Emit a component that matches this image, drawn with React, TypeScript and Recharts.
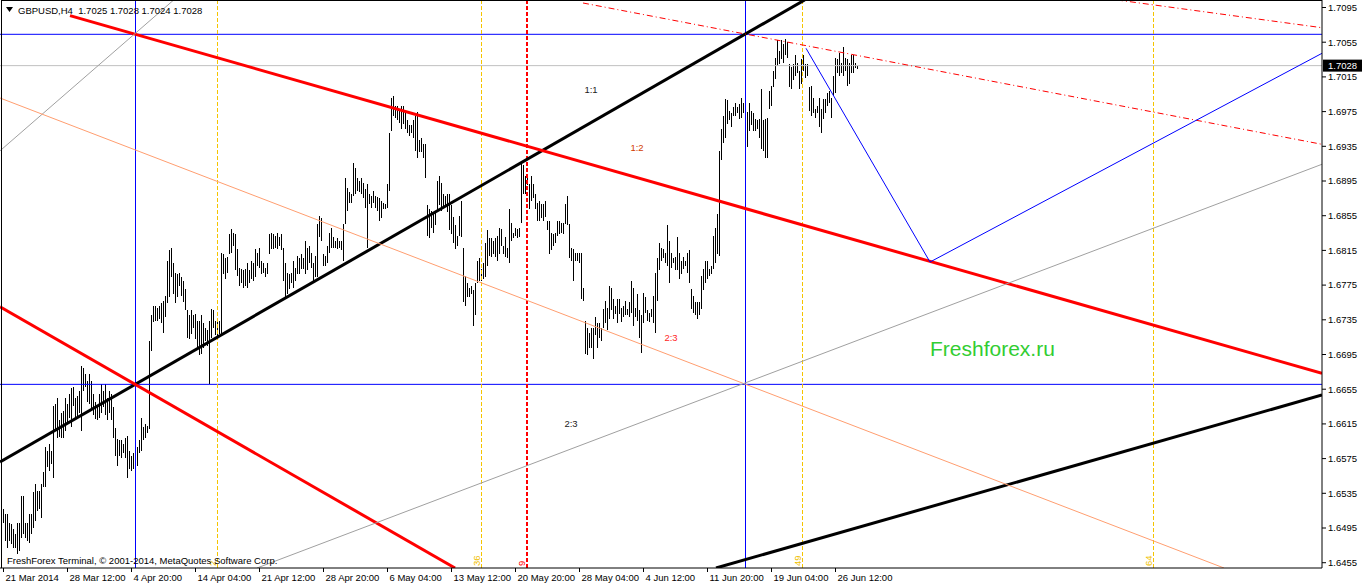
import React from "react";
import {
  ComposedChart,
  Bar,
  XAxis,
  YAxis,
  ReferenceLine,
  ReferenceDot,
} from "recharts";

// GBPUSD H4 bars (high / low per bar)
const highs = [
  1.6517, 1.6511, 1.6511, 1.6501, 1.65, 1.6494, 1.6488, 1.6501, 1.6501, 1.6532,
  1.6532, 1.6501, 1.6501, 1.6511, 1.6511, 1.6536, 1.6546, 1.6538, 1.6538, 1.6546,
  1.6559, 1.6588, 1.6584, 1.6592, 1.6584, 1.6636, 1.6638, 1.6645, 1.6619, 1.6627,
  1.663, 1.6645, 1.6638, 1.665, 1.6656, 1.6657, 1.6645, 1.6647, 1.6653, 1.6682,
  1.668, 1.6673, 1.6665, 1.6673, 1.6665, 1.665, 1.664, 1.6636, 1.665, 1.6661,
  1.6653, 1.6661, 1.6645, 1.6653, 1.665, 1.6634, 1.661, 1.6598, 1.6596, 1.6596,
  1.6592, 1.6599, 1.6601, 1.6584, 1.6578, 1.6581, 1.6592, 1.6588, 1.6596, 1.6622,
  1.6611, 1.6615, 1.6613, 1.6711, 1.674, 1.6751, 1.6751, 1.6749, 1.6751, 1.6754,
  1.6757, 1.6763, 1.6803, 1.6815, 1.6818, 1.68, 1.6789, 1.6788, 1.6789, 1.6784,
  1.678, 1.6771, 1.6746, 1.674, 1.6746, 1.674, 1.6742, 1.6734, 1.6734, 1.674,
  1.6731, 1.6726, 1.6723, 1.6734, 1.6748, 1.6746, 1.6734, 1.6732, 1.6734, 1.6812,
  1.6811, 1.6806, 1.6807, 1.6834, 1.684, 1.6835, 1.6834, 1.6817, 1.6795, 1.6794,
  1.6792, 1.6794, 1.68, 1.6792, 1.6803, 1.68, 1.6817, 1.6812, 1.6818, 1.6803,
  1.68, 1.6795, 1.68, 1.6834, 1.6835, 1.6834, 1.6832, 1.6835, 1.683, 1.6834,
  1.6818, 1.6801, 1.6789, 1.6788, 1.6789, 1.6803, 1.6795, 1.6809, 1.6806, 1.6811,
  1.6806, 1.6826, 1.6818, 1.682, 1.6812, 1.6801, 1.6809, 1.6846, 1.6855, 1.6852,
  1.6811, 1.6809, 1.682, 1.6835, 1.6841, 1.683, 1.6826, 1.6829, 1.6826, 1.6826,
  1.6846, 1.6898, 1.6887, 1.6882, 1.688, 1.6916, 1.691, 1.6899, 1.6895, 1.6898,
  1.6893, 1.6886, 1.6892, 1.688, 1.6878, 1.6884, 1.6878, 1.6876, 1.6875, 1.6872,
  1.687, 1.6869, 1.6892, 1.695, 1.6991, 1.6993, 1.6982, 1.6982, 1.6976, 1.6982,
  1.6982, 1.6973, 1.6965, 1.6959, 1.6959, 1.6965, 1.697, 1.6974, 1.6942, 1.6944,
  1.6938, 1.6938, 1.6867, 1.6863, 1.6861, 1.6859, 1.6861, 1.6895, 1.6901, 1.6893,
  1.688, 1.6878, 1.688, 1.688, 1.6867, 1.6853, 1.6844, 1.6832, 1.6855, 1.6872,
  1.6818, 1.6786, 1.6778, 1.6772, 1.6774, 1.6769, 1.6777, 1.6803, 1.6806, 1.6794,
  1.68, 1.6824, 1.6838, 1.6829, 1.6829, 1.6826, 1.6829, 1.6832, 1.6841, 1.684,
  1.682, 1.683, 1.6818, 1.6863, 1.6847, 1.6835, 1.6841, 1.684, 1.6841, 1.6915,
  1.6913, 1.6901, 1.6901, 1.6892, 1.6901, 1.6892, 1.688, 1.687, 1.6872, 1.6869,
  1.6869, 1.6872, 1.6849, 1.6849, 1.6835, 1.6834, 1.6835, 1.6849, 1.6849, 1.6847,
  1.6847, 1.6869, 1.6878, 1.6846, 1.6818, 1.6817, 1.6812, 1.6812, 1.6812, 1.6812,
  1.6772, 1.6734, 1.6725, 1.672, 1.6726, 1.6726, 1.6738, 1.6731, 1.6731, 1.6725,
  1.6748, 1.6757, 1.6749, 1.6774, 1.6772, 1.6759, 1.6751, 1.6759, 1.6759, 1.6749,
  1.6751, 1.6757, 1.6748, 1.6755, 1.678, 1.6772, 1.6749, 1.6765, 1.6746, 1.674,
  1.6766, 1.6761, 1.6746, 1.6743, 1.6748, 1.6763, 1.6789, 1.6806, 1.6823, 1.6818,
  1.6817, 1.6812, 1.6844, 1.6826, 1.6812, 1.6806, 1.6807, 1.683, 1.6812, 1.6803,
  1.6807, 1.6803, 1.6812, 1.6815, 1.6771, 1.6763, 1.6755, 1.6755, 1.6755, 1.6786,
  1.6794, 1.6803, 1.6803, 1.6794, 1.6797, 1.6832, 1.6841, 1.6857, 1.693, 1.6955,
  1.697, 1.699, 1.6988, 1.6976, 1.6973, 1.698, 1.6985, 1.698, 1.6984, 1.6991,
  1.6985, 1.6988, 1.6974, 1.6985, 1.6976, 1.6973, 1.6967, 1.6965, 1.6967, 1.7001,
  1.6965, 1.6967, 1.6968, 1.6999, 1.7005, 1.7022, 1.7037, 1.7057, 1.7045, 1.7057,
  1.7053, 1.7059, 1.7055, 1.703, 1.7026, 1.703, 1.704, 1.7031, 1.7022, 1.7036,
  1.704, 1.703, 1.703, 1.7003, 1.7005, 1.6991, 1.6978, 1.6982, 1.6991, 1.6978,
  1.699, 1.699, 1.6996, 1.6999, 1.6991, 1.7016, 1.7037, 1.7036, 1.7043, 1.7031,
  1.7049, 1.7037, 1.7036, 1.7031, 1.704, 1.704, 1.7031, 1.7028,
];

const lows = [
  1.6501, 1.648, 1.6472, 1.648, 1.6477, 1.6472, 1.6472, 1.6465, 1.6469, 1.6484,
  1.6488, 1.6484, 1.648, 1.6478, 1.6488, 1.6495, 1.6503, 1.6515, 1.6517, 1.6507,
  1.6542, 1.6542, 1.6565, 1.6561, 1.6569, 1.6553, 1.6607, 1.6599, 1.66, 1.6599,
  1.6599, 1.6607, 1.6615, 1.6622, 1.6611, 1.6636, 1.6622, 1.6622, 1.6627, 1.6607,
  1.6653, 1.6657, 1.664, 1.6638, 1.663, 1.6625, 1.6621, 1.6619, 1.6622, 1.6627,
  1.6634, 1.6625, 1.6619, 1.6627, 1.6619, 1.6599, 1.6578, 1.6567, 1.6578, 1.6576,
  1.6581, 1.6576, 1.6553, 1.6563, 1.6561, 1.6563, 1.6569, 1.6567, 1.6581, 1.6584,
  1.6596, 1.6599, 1.6605, 1.6609, 1.6699, 1.6732, 1.6734, 1.6734, 1.6736, 1.6731,
  1.672, 1.6738, 1.6754, 1.6761, 1.6784, 1.6765, 1.6754, 1.6761, 1.6774, 1.6763,
  1.6755, 1.6746, 1.6714, 1.6713, 1.6719, 1.6726, 1.6713, 1.6702, 1.6694, 1.6696,
  1.6703, 1.6711, 1.6705, 1.6661, 1.6714, 1.6725, 1.6717, 1.6713, 1.6719, 1.6717,
  1.6788, 1.6782, 1.6789, 1.6811, 1.6812, 1.682, 1.6792, 1.6786, 1.6774, 1.6778,
  1.6772, 1.6774, 1.6772, 1.6778, 1.6782, 1.678, 1.6784, 1.6797, 1.6795, 1.6788,
  1.6789, 1.6784, 1.6788, 1.6811, 1.6817, 1.6817, 1.6818, 1.6817, 1.682, 1.6815,
  1.678, 1.6761, 1.6765, 1.6771, 1.6778, 1.6772, 1.678, 1.6788, 1.6788, 1.6794,
  1.6794, 1.6788, 1.6792, 1.68, 1.6795, 1.678, 1.6784, 1.6784, 1.683, 1.6826,
  1.6797, 1.6797, 1.6801, 1.6812, 1.6818, 1.6818, 1.6818, 1.6817, 1.6818, 1.6815,
  1.6803, 1.6846, 1.6861, 1.687, 1.687, 1.6878, 1.688, 1.6884, 1.6882, 1.688,
  1.6875, 1.6864, 1.6818, 1.6869, 1.6864, 1.687, 1.6864, 1.6861, 1.6849, 1.6852,
  1.6863, 1.6863, 1.6864, 1.6884, 1.6953, 1.697, 1.6968, 1.6965, 1.6962, 1.6955,
  1.6961, 1.6955, 1.695, 1.6947, 1.695, 1.6944, 1.693, 1.6922, 1.6928, 1.6928,
  1.6921, 1.6899, 1.6832, 1.6829, 1.6841, 1.6835, 1.6844, 1.6859, 1.6867, 1.6861,
  1.6864, 1.6867, 1.6859, 1.6838, 1.6834, 1.6823, 1.6817, 1.682, 1.6832, 1.683,
  1.6755, 1.6751, 1.6761, 1.6761, 1.6765, 1.6728, 1.674, 1.6778, 1.678, 1.678,
  1.6782, 1.6784, 1.6797, 1.6809, 1.6807, 1.6811, 1.6807, 1.6803, 1.6811, 1.682,
  1.6811, 1.6807, 1.6806, 1.68, 1.6826, 1.6829, 1.6832, 1.6829, 1.683, 1.6847,
  1.688, 1.688, 1.689, 1.6863, 1.6872, 1.6875, 1.6863, 1.6849, 1.6849, 1.6852,
  1.6849, 1.6853, 1.6838, 1.6811, 1.6815, 1.682, 1.6824, 1.6832, 1.6834, 1.6835,
  1.6834, 1.6846, 1.6844, 1.6806, 1.6803, 1.678, 1.6803, 1.6803, 1.6801, 1.6759,
  1.6757, 1.6696, 1.6694, 1.6702, 1.6703, 1.669, 1.6717, 1.6703, 1.6714, 1.6711,
  1.6725, 1.6731, 1.6723, 1.6736, 1.6746, 1.6736, 1.6742, 1.6731, 1.6742, 1.6732,
  1.6738, 1.674, 1.674, 1.6738, 1.6743, 1.6728, 1.6738, 1.6734, 1.6714, 1.6697,
  1.6731, 1.6743, 1.6734, 1.6732, 1.6738, 1.6731, 1.672, 1.6757, 1.6792, 1.6803,
  1.6806, 1.68, 1.6797, 1.6778, 1.6795, 1.68, 1.6792, 1.6792, 1.6782, 1.6788,
  1.6794, 1.6797, 1.6789, 1.6778, 1.6748, 1.6743, 1.674, 1.6736, 1.674, 1.6748,
  1.6769, 1.6777, 1.6782, 1.6786, 1.6788, 1.6794, 1.68, 1.6811, 1.6809, 1.6919,
  1.6939, 1.6945, 1.6961, 1.6965, 1.6957, 1.697, 1.697, 1.6973, 1.6967, 1.6968,
  1.6973, 1.697, 1.6934, 1.6953, 1.6959, 1.6953, 1.6953, 1.6955, 1.6945, 1.6932,
  1.693, 1.6921, 1.6922, 1.6978, 1.6982, 1.7003, 1.7013, 1.7028, 1.703, 1.7036,
  1.7031, 1.704, 1.7037, 1.7003, 1.7001, 1.7011, 1.7016, 1.702, 1.7001, 1.7007,
  1.7022, 1.7014, 1.7016, 1.6976, 1.697, 1.6973, 1.6968, 1.6973, 1.6957, 1.695,
  1.6967, 1.6973, 1.6982, 1.6985, 1.6968, 1.6993, 1.6997, 1.7019, 1.7016, 1.7019,
  1.7016, 1.7022, 1.7005, 1.7007, 1.702, 1.7019, 1.7025, 1.7024,
];

// last bar O H L C, shown in the header
const lastBar = [1.7025, 1.7028, 1.7024, 1.7028];
const lastPrice = 1.7028;

// time axis: one label every 32 bars
const timeTicks = [0, 32, 64, 96, 128, 160, 192, 224, 256, 288, 320, 352, 384, 416];
const timeLabels = [
  "21 Mar 2014",
  "28 Mar 12:00",
  "4 Apr 20:00",
  "14 Apr 04:00",
  "21 Apr 12:00",
  "28 Apr 20:00",
  "6 May 04:00",
  "13 May 12:00",
  "20 May 20:00",
  "28 May 04:00",
  "4 Jun 12:00",
  "11 Jun 20:00",
  "19 Jun 04:00",
  "26 Jun 12:00",
];

const priceTicks = [
  1.7095, 1.7055, 1.7015, 1.6975, 1.6935, 1.6895, 1.6855, 1.6815, 1.6775,
  1.6735, 1.6695, 1.6655, 1.6615, 1.6575, 1.6535, 1.6495, 1.6455,
];

// drawn objects, in (bar index, price)
const trendLines = [
  { id: "fanUp", from: [-1.75, 1.65712], to: [400.6, 1.71037] },
  { id: "lowerBlack", from: [356.25, 1.64489], to: [659.25, 1.66483] },
  { id: "mainRed", from: [33.25, 1.70856], to: [659.25, 1.66733] },
  { id: "leftRed", from: [-1.75, 1.675], to: [225.75, 1.64489] },
  { id: "greyLeft", from: [-1.75, 1.69298], to: [85.1, 1.71037] },
  { id: "salmon", from: [-1.75, 1.69907], to: [610.25, 1.64489] },
  { id: "greyRight", from: [126.75, 1.64489], to: [659.25, 1.69143] },
  { id: "dashLow", from: [289.75, 1.71002], to: [659.25, 1.69373] },
  { id: "dashHigh", from: [556.75, 1.71037], to: [659.25, 1.70717] },
  { id: "blueDown", from: [401.25, 1.7048], to: [463.25, 1.68016] },
  { id: "blueUp", from: [463.25, 1.68016], to: [659.25, 1.70422] },
];

const levelLines = [
  { id: "top", price: 1.70641 },
  { id: "bottom", price: 1.66606 },
];

const timeLines = [
  { id: "v1", bar: 66 },
  { id: "v2", bar: 371 },
];

const timeZones = [
  { bar: 107, label: "2", kind: "fibo" },
  { bar: 239, label: "36", kind: "fibo" },
  { bar: 261.75, label: "9", kind: "red" },
  { bar: 399.5, label: "49", kind: "fibo" },
  { bar: 575, label: "64", kind: "fibo" },
];

const gannLabels = [
  { text: "1:1", bar: 293.75, price: 1.69999, kind: "dark" },
  { text: "1:2", bar: 316.75, price: 1.6933, kind: "orange" },
  { text: "2:3", bar: 333.75, price: 1.6714, kind: "red" },
  { text: "2:3", bar: 283.75, price: 1.66149, kind: "dark" },
];

const FONT = "'Liberation Sans', Arial, sans-serif";

const lineStyle: Record<string, { stroke: string; width: number; dash?: string }> = {
  fanUp: { stroke: "#000000", width: 3 },
  lowerBlack: { stroke: "#000000", width: 3 },
  mainRed: { stroke: "#ff0000", width: 3 },
  leftRed: { stroke: "#ff0000", width: 3 },
  greyLeft: { stroke: "#a0a0a0", width: 1 },
  salmon: { stroke: "#ff9e70", width: 1 },
  greyRight: { stroke: "#a0a0a0", width: 1 },
  dashLow: { stroke: "#ff0000", width: 1, dash: "6 3 1 3" },
  dashHigh: { stroke: "#ff0000", width: 1, dash: "6 3 1 3" },
  blueDown: { stroke: "#0000ff", width: 1 },
  blueUp: { stroke: "#0000ff", width: 1 },
};

const labelColor: Record<string, string> = {
  dark: "#1b1b1b",
  orange: "#d23c00",
  red: "#ff1e1e",
  fibo: "#f0c000",
};

const bars = highs.map((h, i) => ({ i, hl: [lows[i], h] }));

const HLBar = (p: any) => {
  if (p.height == null || p.y == null) return null;
  const x = Math.round(p.x + p.width / 2 - 0.5);
  const y = Math.min(p.y, p.y + p.height);
  return (
    <rect
      x={x}
      y={y}
      width={1}
      height={Math.max(Math.abs(p.height), 1)}
      fill="#000"
      shapeRendering="crispEdges"
    />
  );
};

const TimeTick = (p: any) => {
  const idx = timeTicks.indexOf(p.payload.value);
  return (
    <text x={p.x + 2} y={p.y} dy="0.71em" fontSize={9.5} fontFamily={FONT} fill="#000" textAnchor="start">
      {timeLabels[idx]}
    </text>
  );
};

const ZoneLabel = (p: any) => {
  const vb = p.viewBox || {};
  const x = vb.x - 2;
  const y = vb.y + vb.height - 2;
  return (
    <text
      x={x}
      y={y}
      transform={`rotate(-90 ${x} ${y})`}
      fontSize={9.5}
      fontFamily={FONT}
      fill={p.color}
    >
      {p.text}
    </text>
  );
};

const PriceTag = (p: any) => {
  const vb = p.viewBox || {};
  const x = vb.x + vb.width + 1;
  const y = vb.y;
  return (
    <g>
      <rect x={x} y={y - 6} width={40} height={12} fill="#000" />
      <text x={x + 5} y={y + 3.5} fontSize={9.5} fontFamily={FONT} fill="#fff">
        {p.text}
      </text>
    </g>
  );
};

export default function App() {
  return (
    <div
      style={{
        position: "fixed",
        left: 0,
        top: 0,
        width: 1362,
        height: 586,
        background: "#fff",
        fontFamily: FONT,
      }}
    >
      <ComposedChart
        width={1362}
        height={586}
        data={bars}
        margin={{ top: 0, right: 0, bottom: 0, left: 0 }}
      >
        <XAxis
          dataKey="i"
          type="number"
          domain={[-1.75, 659.25]}
          allowDataOverflow
          ticks={timeTicks}
          interval={0}
          height={18}
          tickSize={4}
          tickMargin={2}
          stroke="#000"
          tick={<TimeTick />}
        />
        <YAxis
          type="number"
          orientation="right"
          domain={[1.64489, 1.710365]}
          allowDataOverflow
          ticks={priceTicks}
          interval={0}
          width={40}
          tickSize={4}
          tickMargin={2}
          stroke="#000"
          tick={{ fontSize: 9.5, fill: "#000", fontFamily: FONT }}
          tickFormatter={(v: number) => v.toFixed(4)}
        />
        <Bar dataKey="hl" barSize={1} isAnimationActive={false} shape={<HLBar />} />

        <ReferenceLine
          y={lastPrice}
          stroke="#c0c0c0"
          strokeWidth={1}
          label={<PriceTag text={lastPrice.toFixed(4)} />}
        />
        {levelLines.map((l) => (
          <ReferenceLine key={l.id} y={l.price} stroke="#0000ff" strokeWidth={1} ifOverflow="hidden" />
        ))}
        {timeZones.map((z) => (
          <ReferenceLine
            key={`z${z.bar}`}
            x={z.bar}
            stroke={z.kind === "red" ? "#ff0000" : "#f5c400"}
            strokeWidth={z.kind === "red" ? 2 : 1}
            strokeDasharray="4 2"
            ifOverflow="hidden"
            label={<ZoneLabel text={z.label} color={z.kind === "red" ? "#ff0000" : labelColor.fibo} />}
          />
        ))}
        {timeLines.map((v) => (
          <ReferenceLine key={v.id} x={v.bar} stroke="#0000ff" strokeWidth={1} ifOverflow="hidden" />
        ))}
        {trendLines.map((t) => {
          const s = lineStyle[t.id];
          return (
            <ReferenceLine
              key={t.id}
              segment={[
                { x: t.from[0], y: t.from[1] },
                { x: t.to[0], y: t.to[1] },
              ]}
              stroke={s.stroke}
              strokeWidth={s.width}
              strokeDasharray={s.dash}
              ifOverflow="hidden"
            />
          );
        })}
        {gannLabels.map((g, k) => (
          <ReferenceDot
            key={`g${k}`}
            x={g.bar}
            y={g.price}
            r={0}
            fill="none"
            stroke="none"
            label={{
              value: g.text,
              position: "center",
              fill: labelColor[g.kind],
              fontSize: 9.5,
              fontFamily: FONT,
            }}
          />
        ))}
      </ComposedChart>

      {/* window frame, left and top */}
      <div
        style={{
          position: "absolute",
          left: 1,
          top: 0,
          width: 1321,
          height: 568,
          borderLeft: "1px solid #000",
          borderTop: "1px solid #000",
          boxSizing: "border-box",
          pointerEvents: "none",
        }}
      />

      <svg style={{ position: "absolute", left: 6, top: 7 }} width={8} height={6}>
        <polygon points="0,0 7,0 3.5,5" fill="#000" />
      </svg>
      <div
        style={{
          position: "absolute",
          left: 18,
          top: 5,
          fontSize: 9.5,
          lineHeight: "11px",
          whiteSpace: "pre",
          color: "#000",
        }}
      >
        {`GBPUSD,H4  ${lastBar.map((v) => v.toFixed(4)).join(" ")}`}
      </div>

      <div
        style={{
          position: "absolute",
          left: 7,
          top: 555,
          fontSize: 9.5,
          lineHeight: "11px",
          whiteSpace: "pre",
          color: "#000",
        }}
      >
        FreshForex Terminal, © 2001-2014, MetaQuotes Software Corp.
      </div>

      <div
        style={{
          position: "absolute",
          left: 930,
          top: 337,
          fontSize: 21,
          lineHeight: "24px",
          color: "#32cd32",
        }}
      >
        Freshforex.ru
      </div>
    </div>
  );
}
